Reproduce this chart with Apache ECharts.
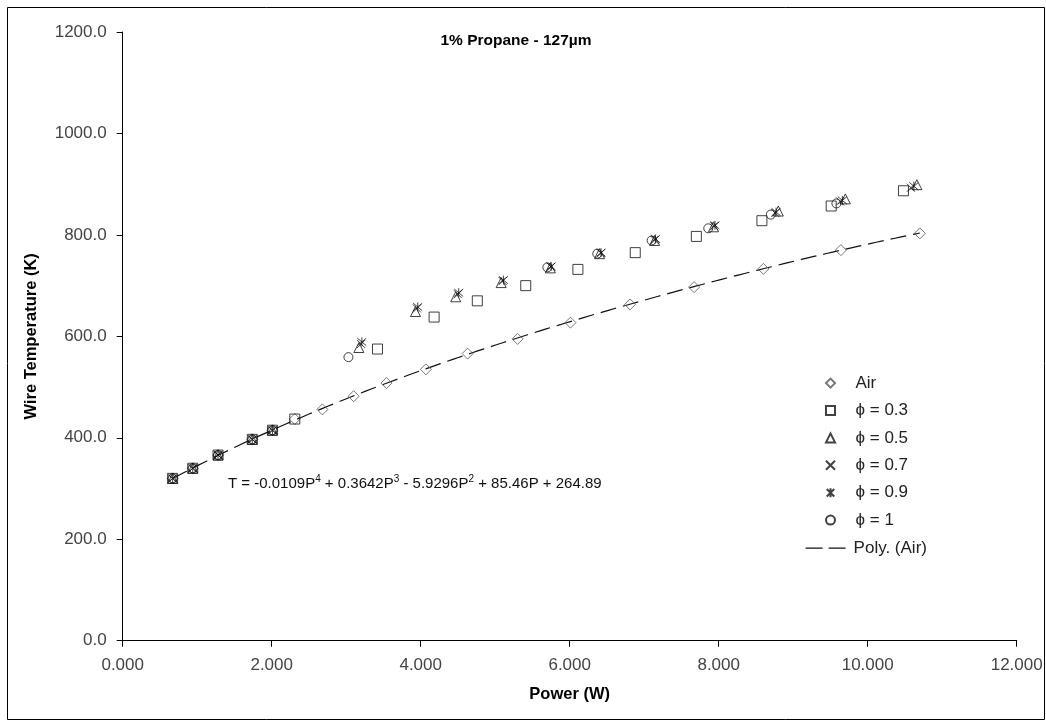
<!DOCTYPE html>
<html>
<head>
<meta charset="utf-8">
<script src="https://cdn.jsdelivr.net/npm/echarts@6/dist/echarts.min.js"></script>
<style>
  html, body { margin: 0; padding: 0; background: #fff; }
  #chart { width: 1046px; height: 721px; }
</style>
</head>
<body>
<div id="chart"></div>
<script>
// Wire temperature vs. power for a 127 µm wire in 1% propane mixtures
const airP   = [0.67, 0.94, 1.28, 1.74, 2.01, 2.31, 2.68, 3.10, 3.54, 4.07, 4.63, 5.30, 6.01, 6.81, 7.67, 8.60, 9.64, 10.70];
const airT   = [320, 340, 366, 397, 415, 437, 456, 482, 508, 535, 566, 595, 627, 663, 697, 733, 770, 803];

const phi03P = [0.67, 0.94, 1.28, 1.74, 2.01, 2.31, 3.42, 4.18, 4.76, 5.41, 6.11, 6.88, 7.70, 8.58, 9.51, 10.48];
const phi03T = [320, 340, 366, 397, 415, 437, 575, 638, 670, 700, 732, 765, 797, 828, 857, 887];

const phi05P = [0.67, 0.94, 1.28, 1.74, 2.01, 3.17, 3.93, 4.47, 5.08, 5.74, 6.40, 7.14, 7.93, 8.80, 9.70, 10.66];
const phi05T = [320, 340, 366, 397, 415, 578, 649, 678, 706, 735, 763, 789, 816, 847, 871, 899];

const phi07P = [0.67, 0.94, 1.28, 1.74, 2.01, 3.20, 3.95, 4.50, 5.10, 5.75, 6.42, 7.14, 7.94, 8.76, 9.63, 10.58];
const phi07T = [320, 340, 366, 397, 415, 585, 655, 683, 709, 737, 764, 790, 817, 843, 866, 893];

const phi09P = [0.67, 0.94, 1.28, 1.74, 2.01, 3.21, 3.96, 4.51, 5.11, 5.75, 6.42, 7.15, 7.95, 8.77, 9.66, 10.62];
const phi09T = [320, 340, 366, 397, 415, 589, 658, 686, 711, 738, 765, 792, 819, 845, 868, 896];

const phi1P  = [0.67, 0.94, 1.28, 1.74, 2.01, 3.03, 5.70, 6.37, 7.10, 7.86, 8.70, 9.58];
const phi1T  = [320, 340, 366, 397, 415, 559, 736, 763, 789, 813, 840, 862];

// 4th-order polynomial fit to the Air data (constant term first)
const polyCoef = [264.89, 85.46, -5.9296, 0.3642, -0.0109];

const seriesNames = ['Air', 'ϕ = 0.3', 'ϕ = 0.5', 'ϕ = 0.7', 'ϕ = 0.9', 'ϕ = 1'];
const trendName = 'Poly. (Air)';

const xTicks = { min: 0, max: 12, interval: 2 };
const yTicks = { min: 0, max: 1200, interval: 200 };

function pairs(xs, ys) { return xs.map((x, i) => [x, ys[i]]); }

function polyAt(p) {
  let s = 0;
  for (let k = polyCoef.length - 1; k >= 0; k--) s = s * p + polyCoef[k];
  return s;
}

// trendline evaluated over the span of the Air measurements
const trend = [];
{
  const p0 = airP[0], p1 = airP[airP.length - 1], n = 120;
  for (let i = 0; i <= n; i++) {
    const p = p0 + (p1 - p0) * i / n;
    trend.push([p, polyAt(p)]);
  }
}

const FONT = '"Liberation Sans", Arial, sans-serif';
const hollow = (c) => ({ color: 'none', borderColor: c, borderWidth: 1 });
const crossPath = 'path://M0,0L10,10M10,0L0,10';
const starPath  = 'path://M0,0L10,10M10,0L0,10M5,-1L5,11';

const chart = echarts.init(document.getElementById('chart'));
chart.setOption({
  animation: false,
  backgroundColor: '#fff',
  textStyle: { fontFamily: FONT },
  grid: { left: 122.7, right: 29.3, top: 32, bottom: 80.3 },
  xAxis: {
    type: 'value', min: xTicks.min, max: xTicks.max, interval: xTicks.interval,
    name: 'Power (W)', nameLocation: 'middle', nameGap: 45,
    nameTextStyle: { fontFamily: FONT, fontWeight: 'bold', fontSize: 16.5, color: '#000' },
    axisLine: { lineStyle: { color: '#000', width: 1 } },
    axisTick: { inside: false, length: 6, lineStyle: { color: '#000' } },
    axisLabel: { formatter: v => v.toFixed(3), fontFamily: FONT, fontSize: 17, color: '#444', margin: 16 },
    splitLine: { show: false }
  },
  yAxis: {
    type: 'value', min: yTicks.min, max: yTicks.max, interval: yTicks.interval,
    name: 'Wire Temperature (K)', nameLocation: 'middle', nameGap: 83,
    nameTextStyle: { fontFamily: FONT, fontWeight: 'bold', fontSize: 16.5, color: '#000' },
    axisLine: { show: true, lineStyle: { color: '#000', width: 1 } },
    axisTick: { show: true, inside: false, length: 6, lineStyle: { color: '#000' } },
    axisLabel: { formatter: v => v.toFixed(1), fontFamily: FONT, fontSize: 17, color: '#444', margin: 16 },
    splitLine: { show: false }
  },
  legend: [
    {
      data: seriesNames, orient: 'vertical', left: 818.5, top: 369.6,
      itemWidth: 9, itemHeight: 9, itemGap: 10.4,
      textStyle: { fontFamily: FONT, fontSize: 17, color: '#222', padding: [0, 0, 0, 15.5] },
      selectedMode: false
    },
    {
      data: [trendName], orient: 'vertical', left: 800, top: 534.6,
      itemWidth: 43, itemHeight: 12,
      itemStyle: { opacity: 0 },
      lineStyle: { color: '#111', width: 1.2, type: [17, 6] },
      textStyle: { fontFamily: FONT, fontSize: 17, color: '#222' },
      selectedMode: false
    }
  ],
  graphic: [
    { type: 'rect', silent: true, z: -1,
      shape: { x: 7.5, y: 7.5, width: 1037, height: 712 },
      style: { fill: 'none', stroke: '#000', lineWidth: 1 } },
    { type: 'text', x: 516, y: 41, silent: true,
      style: { text: '1% Propane - 127µm', font: 'bold 15.5px ' + FONT, fill: '#000',
               textAlign: 'center', textVerticalAlign: 'middle' } },
    { type: 'text', x: 228, y: 484, silent: true,
      style: {
        text: 'T = -0.0109P{s|4} + 0.3642P{s|3} - 5.9296P{s|2} + 85.46P + 264.89',
        fontFamily: FONT, fontSize: 15, fill: '#111', verticalAlign: 'middle',
        rich: { s: { fontSize: 10, fontFamily: FONT, fill: '#111', padding: [0, 0, 9, 0] } }
      } }
  ],
  series: [
    { name: trendName, type: 'line', data: trend, showSymbol: false, symbol: 'none', z: 1,
      itemStyle: { color: '#111' },
      lineStyle: { color: '#111', width: 1.2, type: [16, 7] }, silent: true },
    { name: seriesNames[0], type: 'scatter', data: pairs(airP, airT), symbol: 'diamond', symbolSize: 11, z: 3,
      itemStyle: hollow('#555') },
    { name: seriesNames[1], type: 'scatter', data: pairs(phi03P, phi03T), symbol: 'rect', symbolSize: 10, z: 3,
      itemStyle: hollow('#111') },
    { name: seriesNames[2], type: 'scatter', data: pairs(phi05P, phi05T), symbol: 'triangle', symbolSize: 10, z: 3,
      itemStyle: hollow('#111') },
    { name: seriesNames[3], type: 'scatter', data: pairs(phi07P, phi07T), symbol: crossPath, symbolSize: 8, z: 3,
      itemStyle: hollow('#111') },
    { name: seriesNames[4], type: 'scatter', data: pairs(phi09P, phi09T), symbol: starPath, symbolSize: 9, z: 3,
      itemStyle: hollow('#111') },
    { name: seriesNames[5], type: 'scatter', data: pairs(phi1P, phi1T), symbol: 'circle', symbolSize: 9, z: 3,
      itemStyle: hollow('#111') }
  ]
});
</script>
</body>
</html>
